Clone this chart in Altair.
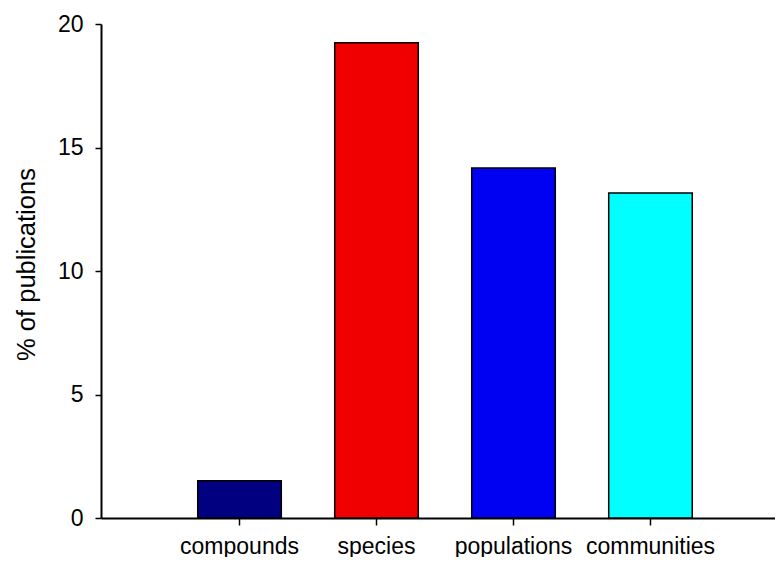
import altair as alt
import pandas as pd

categories = ["compounds", "species", "populations", "communities"]
values = [1.51, 19.24, 14.17, 13.16]
bar_colors = ["#000080", "#f00000", "#0000f2", "#00ffff"]

df = pd.DataFrame({"category": categories, "value": values})

FONT = "Liberation Sans"

chart = alt.Chart(df).mark_bar(stroke="black", strokeWidth=1.5).encode(
    x=alt.X(
        "category:N",
        sort=categories,
        scale=alt.Scale(paddingInner=0.39, paddingOuter=0.655, align=0.539),
        axis=alt.Axis(
            title=None,
            labelAngle=0,
            labelFontSize=23,
            labelPadding=10,
            tickSize=7,
            bandPosition=0.5,
            labelColor="black",
        ),
    ),
    y=alt.Y(
        "value:Q",
        scale=alt.Scale(domain=[0, 20], nice=False),
        axis=alt.Axis(
            values=[0, 5, 10, 15, 20],
            title="% of publications",
            titleFontSize=25.5,
            titleFontWeight="normal",
            titleAngle=270,
            titleAlign="center",
            titleBaseline="middle",
            titleX=-75,
            titleY=240,
            labelFontSize=23,
            labelPadding=12,
            tickSize=6,
            labelColor="black",
            titleColor="black",
        ),
    ),
    color=alt.Color(
        "category:N",
        scale=alt.Scale(domain=categories, range=bar_colors),
        legend=None,
    ),
).properties(
    width=674,
    height=494,
    autosize=alt.AutoSizeParams(type="none"),
    padding={"left": 93, "top": 16, "right": 0, "bottom": 39},
).configure_view(
    stroke=None
).configure_axis(
    grid=False,
    domainColor="black",
    domainWidth=2,
    tickColor="black",
    tickWidth=1.5,
    labelFont=FONT,
    titleFont=FONT,
)

chart.save("out.html", embed_options={"renderer": "svg", "actions": False})
